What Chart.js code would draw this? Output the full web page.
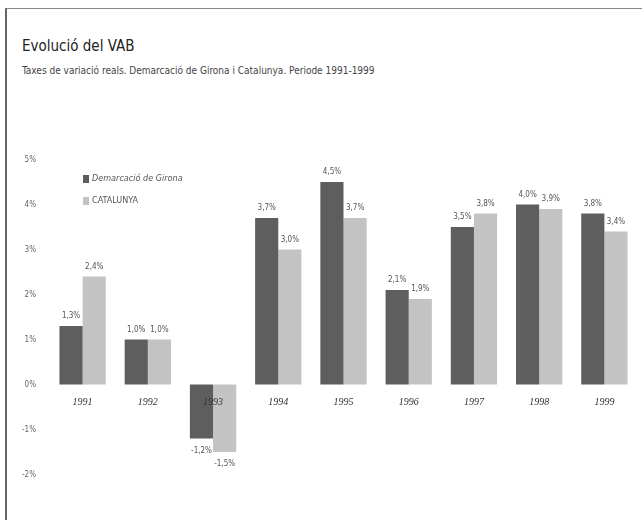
<!DOCTYPE html>
<html>
<head>
<meta charset="utf-8">
<script src="https://cdn.jsdelivr.net/npm/chart.js@4/dist/chart.umd.min.js"></script>
<style>
  body { margin: 0; background: #fff; }
  .wrap { position: relative; width: 642px; height: 520px; overflow: hidden; }
  .frame { position: absolute; left: 5px; top: 8px; width: 640px; height: 520px;
    border-left: 2px solid #666; border-top: 1px solid #888; }
  .title { position: absolute; left: 22px; top: 37px; font: 15px "DejaVu Sans Condensed", "Liberation Sans Narrow", sans-serif; color: #222; }
  .subtitle { position: absolute; left: 22px; top: 65px; font: 10px "DejaVu Sans Condensed", "Liberation Sans Narrow", sans-serif; color: #444; }
  canvas { position: absolute; left: 0; top: 0; }
</style>
</head>
<body>
<div class="wrap">
  <div class="frame"></div>
  <div class="title">Evolució del VAB</div>
  <div class="subtitle">Taxes de variació reals. Demarcació de Girona i Catalunya. Periode 1991-1999</div>
  <canvas id="vab-chart" width="642" height="520"></canvas>
</div>
<script>
const years = ['1991', '1992', '1993', '1994', '1995', '1996', '1997', '1998', '1999']
const girona = [1.3, 1.0, -1.2, 3.7, 4.5, 2.1, 3.5, 4.0, 3.8]
const catalunya = [2.4, 1.0, -1.5, 3.0, 3.7, 1.9, 3.8, 3.9, 3.4]
const seriesNames = ['Demarcació de Girona', 'CATALUNYA']
const yTicks = [-2, -1, 0, 1, 2, 3, 4, 5]

const narrow = "'DejaVu Sans Condensed', 'Liberation Sans Narrow', sans-serif"

const fmt = (v) => v.toFixed(1).replace('.', ',') + '%'

// value labels over / under each bar
const valueLabels = {
  id: 'valueLabels',
  afterDatasetsDraw(chart) {
    const ctx = chart.ctx
    ctx.save()
    ctx.font = '8px ' + narrow
    ctx.fillStyle = '#555'
    ctx.textAlign = 'center'
    chart.data.datasets.forEach((ds, i) => {
      chart.getDatasetMeta(i).data.forEach((bar, j) => {
        const v = ds.data[j]
        if (v >= 0) {
          ctx.textBaseline = 'bottom'
          ctx.fillText(fmt(v), bar.x, bar.y - 6)
        } else {
          ctx.textBaseline = 'top'
          ctx.fillText(fmt(v), bar.x, bar.y + 8)
        }
      })
    })
    ctx.restore()
  }
}

// small legend inside the plot, top left
const innerLegend = {
  id: 'innerLegend',
  afterDraw(chart) {
    const ctx = chart.ctx
    ctx.save()
    ctx.textBaseline = 'middle'
    chart.data.datasets.forEach((ds, i) => {
      const y = 179 + i * 22
      ctx.fillStyle = ds.backgroundColor
      ctx.fillRect(83, y - 4, 6, 8)
      ctx.fillStyle = '#555'
      ctx.font = (i === 0 ? 'italic ' : '') + '9px ' + narrow
      ctx.fillText(ds.label, 92, y)
    })
    ctx.restore()
  }
}

new Chart(document.getElementById('vab-chart'), {
  type: 'bar',
  data: {
    labels: years,
    datasets: [
      { label: seriesNames[0], data: girona, backgroundColor: '#5e5e5e' },
      { label: seriesNames[1], data: catalunya, backgroundColor: '#c3c3c3' }
    ]
  },
  options: {
    responsive: false,
    animation: false,
    layout: { padding: { top: 137, right: 5, bottom: 23, left: 0 } },
    categoryPercentage: 0.71,
    barPercentage: 1,
    plugins: {
      legend: { display: false },
      tooltip: { enabled: false }
    },
    scales: {
      x: {
        position: { y: 0 },
        grid: { display: false, drawTicks: false },
        border: { display: false },
        ticks: {
          z: 1,
          autoSkip: false,
          padding: 12,
          color: '#333',
          font: { family: "'Liberation Serif', serif", style: 'italic', size: 10 }
        }
      },
      y: {
        min: -2.5,
        max: 5.5,
        grid: { display: false, drawTicks: false },
        border: { display: false },
        afterFit: (scale) => { scale.width = 50 },
        afterBuildTicks: (scale) => { scale.ticks = yTicks.map((v) => ({ value: v })) },
        ticks: {
          padding: 14,
          color: '#666',
          font: { family: narrow, size: 8 },
          callback: (v) => v + '%'
        }
      }
    }
  },
  plugins: [valueLabels, innerLegend]
})
</script>
</body>
</html>
